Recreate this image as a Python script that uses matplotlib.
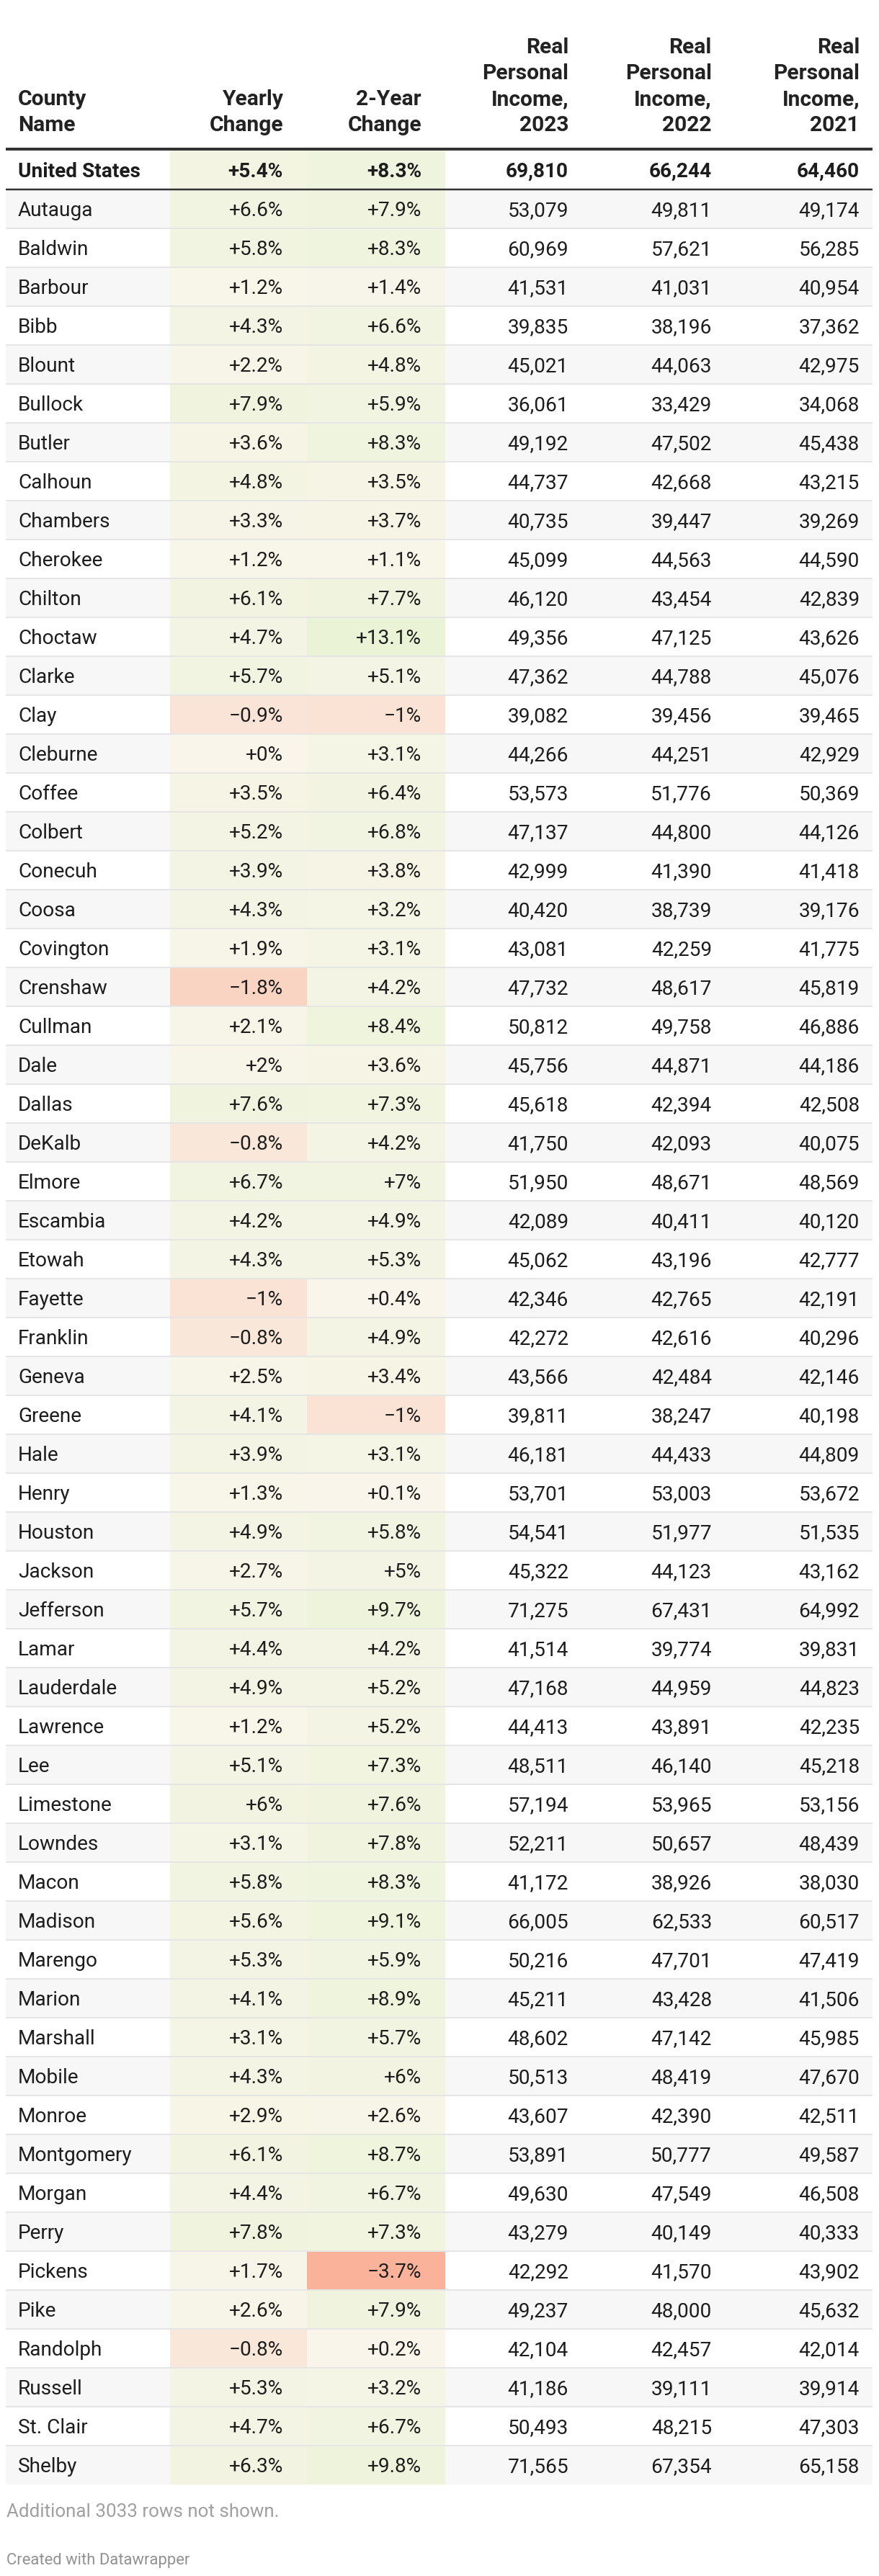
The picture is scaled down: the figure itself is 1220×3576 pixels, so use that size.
import numpy as np
import matplotlib
matplotlib.use("Agg")
import matplotlib.pyplot as plt
from matplotlib.colors import LinearSegmentedColormap, TwoSlopeNorm

plt.rcParams['font.family'] = ['Roboto', 'DejaVu Sans']

# ---- data ----
headers = [["County", "Name"],
           ["Yearly", "Change"],
           ["2-Year", "Change"],
           ["Real", "Personal", "Income,", "2023"],
           ["Real", "Personal", "Income,", "2022"],
           ["Real", "Personal", "Income,", "2021"]]

us_name = "United States"
us_yearly = 5.4
us_two_year = 8.3
us_income = [69810, 66244, 64460]

counties = ["Autauga", "Baldwin", "Barbour", "Bibb", "Blount", "Bullock", "Butler",
            "Calhoun", "Chambers", "Cherokee", "Chilton", "Choctaw", "Clarke", "Clay",
            "Cleburne", "Coffee", "Colbert", "Conecuh", "Coosa", "Covington", "Crenshaw",
            "Cullman", "Dale", "Dallas", "DeKalb", "Elmore", "Escambia", "Etowah",
            "Fayette", "Franklin", "Geneva", "Greene", "Hale", "Henry", "Houston",
            "Jackson", "Jefferson", "Lamar", "Lauderdale", "Lawrence", "Lee", "Limestone",
            "Lowndes", "Macon", "Madison", "Marengo", "Marion", "Marshall", "Mobile",
            "Monroe", "Montgomery", "Morgan", "Perry", "Pickens", "Pike", "Randolph",
            "Russell", "St. Clair", "Shelby"]

yearly = [6.6, 5.8, 1.2, 4.3, 2.2, 7.9, 3.6, 4.8, 3.3, 1.2, 6.1, 4.7, 5.7, -0.9,
          0.0, 3.5, 5.2, 3.9, 4.3, 1.9, -1.8, 2.1, 2.0, 7.6, -0.8, 6.7, 4.2, 4.3,
          -1.0, -0.8, 2.5, 4.1, 3.9, 1.3, 4.9, 2.7, 5.7, 4.4, 4.9, 1.2, 5.1, 6.0,
          3.1, 5.8, 5.6, 5.3, 4.1, 3.1, 4.3, 2.9, 6.1, 4.4, 7.8, 1.7, 2.6, -0.8,
          5.3, 4.7, 6.3]

two_year = [7.9, 8.3, 1.4, 6.6, 4.8, 5.9, 8.3, 3.5, 3.7, 1.1, 7.7, 13.1, 5.1, -1.0,
            3.1, 6.4, 6.8, 3.8, 3.2, 3.1, 4.2, 8.4, 3.6, 7.3, 4.2, 7.0, 4.9, 5.3,
            0.4, 4.9, 3.4, -1.0, 3.1, 0.1, 5.8, 5.0, 9.7, 4.2, 5.2, 5.2, 7.3, 7.6,
            7.8, 8.3, 9.1, 5.9, 8.9, 5.7, 6.0, 2.6, 8.7, 6.7, 7.3, -3.7, 7.9, 0.2,
            3.2, 6.7, 9.8]

income_2023 = [53079, 60969, 41531, 39835, 45021, 36061, 49192, 44737, 40735, 45099,
               46120, 49356, 47362, 39082, 44266, 53573, 47137, 42999, 40420, 43081,
               47732, 50812, 45756, 45618, 41750, 51950, 42089, 45062, 42346, 42272,
               43566, 39811, 46181, 53701, 54541, 45322, 71275, 41514, 47168, 44413,
               48511, 57194, 52211, 41172, 66005, 50216, 45211, 48602, 50513, 43607,
               53891, 49630, 43279, 42292, 49237, 42104, 41186, 50493, 71565]

income_2022 = [49811, 57621, 41031, 38196, 44063, 33429, 47502, 42668, 39447, 44563,
               43454, 47125, 44788, 39456, 44251, 51776, 44800, 41390, 38739, 42259,
               48617, 49758, 44871, 42394, 42093, 48671, 40411, 43196, 42765, 42616,
               42484, 38247, 44433, 53003, 51977, 44123, 67431, 39774, 44959, 43891,
               46140, 53965, 50657, 38926, 62533, 47701, 43428, 47142, 48419, 42390,
               50777, 47549, 40149, 41570, 48000, 42457, 39111, 48215, 67354]

income_2021 = [49174, 56285, 40954, 37362, 42975, 34068, 45438, 43215, 39269, 44590,
               42839, 43626, 45076, 39465, 42929, 50369, 44126, 41418, 39176, 41775,
               45819, 46886, 44186, 42508, 40075, 48569, 40120, 42777, 42191, 40296,
               42146, 40198, 44809, 53672, 51535, 43162, 64992, 39831, 44823, 42235,
               45218, 53156, 48439, 38030, 60517, 47419, 41506, 45985, 47670, 42511,
               49587, 46508, 40333, 43902, 45632, 42014, 39914, 47303, 65158]

notes = "Additional 3033 rows not shown."
credit = "Created with Datawrapper"

# ---- layout (pixels) ----
W, H = 1220, 3576
PX = 72 / 100  # points per pixel at dpi 100
fs = 28 * PX
fs_head = 30 * PX
left_edge, right_edge = 8, 1211
name_x = 25
heat_cols = [(236, 426), (426, 618)]
col_right = [393, 585, 789, 988, 1193]
row_h = 54
us_top = 208
first_top = 263
txt = '#1d1d1d'

cmap = LinearSegmentedColormap.from_list('dw', ['#fbb29a', '#f9f5eb', '#eaf3d6'])
norm = TwoSlopeNorm(vmin=min(yearly + two_year), vcenter=0, vmax=max(yearly + two_year))


def pct(v):
    s = ('%.1f' % abs(v)).rstrip('0').rstrip('.')
    return ('\u2212' if v < 0 else '+') + s + '%'


def num(v):
    return '{:,}'.format(v)


fig = plt.figure(figsize=(W / 100, H / 100), dpi=100)
ax = fig.add_axes([0, 0, 1, 1])
ax.set_xlim(0, W)
ax.set_ylim(H, 0)
ax.axis('off')

# header
header_base = 182
line_gap = 36
for j, lines in enumerate(headers):
    n = len(lines)
    for k, ln in enumerate(lines):
        y = header_base - (n - 1 - k) * line_gap
        if j == 0:
            ax.text(name_x, y, ln, fontsize=fs_head, fontweight='bold', color='#222222',
                    ha='left', va='baseline')
        else:
            ax.text(col_right[j - 1], y, ln, fontsize=fs_head, fontweight='bold',
                    color='#222222', ha='right', va='baseline')

# rows (US first, then counties)
names = [us_name] + counties
y1 = [us_yearly] + yearly
y2 = [us_two_year] + two_year
i23 = [us_income[0]] + income_2023
i22 = [us_income[1]] + income_2022
i21 = [us_income[2]] + income_2021

tops = [us_top] + [first_top + i * row_h for i in range(len(counties))]
heights = [first_top - us_top] + [row_h] * len(counties)

for r in range(len(names)):
    top, h = tops[r], heights[r]
    cy = top + h / 2
    if r > 0 and (r - 1) % 2 == 0:
        ax.barh(cy, right_edge - left_edge, height=h, left=left_edge,
                color='#f7f7f7', linewidth=0, zorder=1)
    for (x0, x1), v in zip(heat_cols, [y1[r], y2[r]]):
        ax.barh(cy, x1 - x0, height=h, left=x0, color=cmap(norm(v)),
                linewidth=0, zorder=2)
    weight = 'bold' if r == 0 else 'normal'
    base = cy + 10
    ax.text(name_x, base, names[r], fontsize=fs, fontweight=weight, color=txt,
            ha='left', va='baseline', zorder=5)
    vals = [pct(y1[r]), pct(y2[r]), num(i23[r]), num(i22[r]), num(i21[r])]
    for xr, s in zip(col_right, vals):
        ax.text(xr, base, s, fontsize=fs, fontweight=weight, color=txt,
                ha='right', va='baseline', zorder=5)
    if r >= 1 and r < len(names) - 1:
        ax.hlines(top + h, left_edge, right_edge, color='#e5e5e5',
                  linewidth=2 * PX, zorder=3)

# header and US separators
ax.hlines(207, left_edge, right_edge, color='#333333', linewidth=4 * PX, zorder=4)
ax.hlines(first_top, left_edge, right_edge, color='#333333', linewidth=2.5 * PX, zorder=4)

# footer
ax.text(9, 3494, notes, fontsize=26 * PX, color='#a0a0a0', ha='left', va='baseline')
ax.text(9, 3560, credit, fontsize=22 * PX, color='#929292', ha='left', va='baseline')

fig.savefig('out.png', dpi=100, facecolor='white')
